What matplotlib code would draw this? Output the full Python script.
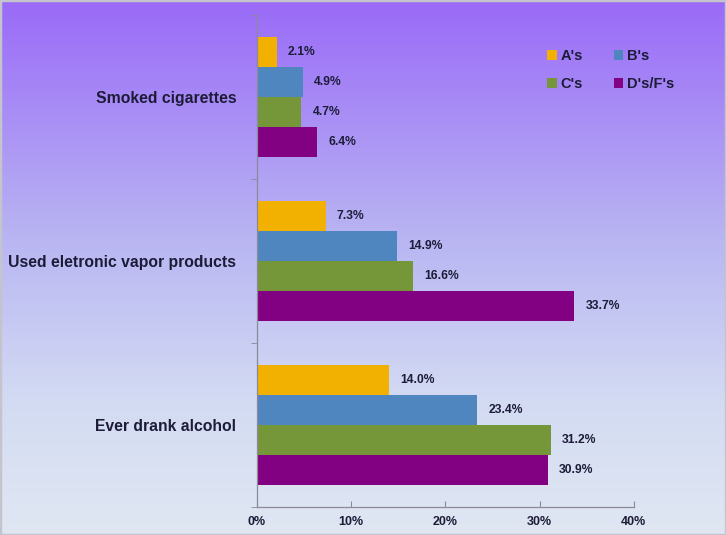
"""Grouped horizontal bars: risk behaviours by grades"""
import numpy as np
import matplotlib
matplotlib.use('Agg')
from matplotlib import pyplot as plt
from matplotlib.colors import LinearSegmentedColormap
from matplotlib.patches import Rectangle

# data
categories = ['Smoked cigarettes', 'Used eletronic vapor products', 'Ever drank alcohol']
grades = ["A's", "B's", "C's", "D's/F's"]
a_vals = [2.1, 7.3, 14.0]
b_vals = [4.9, 14.9, 23.4]
c_vals = [4.7, 16.6, 31.2]
d_vals = [6.4, 33.7, 30.9]
colors = ['#f2b100', '#4f86c0', '#76963a', '#820082']
x_ticks = [0, 10, 20, 30, 40]

text_col = '#1c1c38'
plt.rcParams['font.family'] = ['Liberation Sans', 'DejaVu Sans']
plt.rcParams['font.weight'] = 'bold'

fig = plt.figure(figsize=(7.26, 5.35), dpi=100)

# background gradient (purple top -> pale blue bottom)
bg = fig.add_axes([0, 0, 1, 1], zorder=-10)
cmap = LinearSegmentedColormap.from_list('bg', [(0.0, '#9a6af8'), (0.45, '#b9b6f2'), (0.75, '#d3dbf3'), (1.0, '#e0e7f2')])
grad = np.linspace(0, 1, 256).reshape(-1, 1)
bg.imshow(grad, aspect='auto', cmap=cmap, extent=[0, 1, 0, 1], origin='upper')
bg.add_patch(Rectangle((0, 0), 1, 1, fill=False, edgecolor='#c4c4cc', linewidth=2.5, transform=bg.transAxes))
bg.axis('off')

ax = fig.add_axes([0.354, 0.052, 0.519, 0.92])
ax.patch.set_alpha(0)

h = 0.183
y = np.arange(len(categories))
bars = []
for j, (vals, lab) in enumerate(zip([a_vals, b_vals, c_vals, d_vals], grades)):
    pos = y + (j - 1.5) * h
    bars.append(ax.barh(pos, vals, height=h, color=colors[j], label=lab))
    for p, v in zip(pos, vals):
        ax.annotate(f'{v:.1f}%', (v, p), xytext=(8, 0), textcoords='offset points',
                    va='center', ha='left', fontsize=8.7, fontweight='bold', color=text_col)

ax.set_xlim(0, 40)
ax.set_ylim(2.5, -0.5)
ax.set_xticks(x_ticks)
ax.set_xticklabels([f'{t}%' for t in x_ticks], fontsize=9, fontweight='bold', color=text_col)
ax.set_yticks(y)
ax.set_yticklabels(categories, fontsize=11.3, fontweight='bold', color=text_col)
ax.tick_params(axis='y', length=0, pad=15)
ax.set_yticks([-0.5, 0.5, 1.5, 2.5], minor=True)
ax.tick_params(axis='y', which='minor', length=4, color='#8a8a9a')
ax.tick_params(axis='x', direction='in', length=4, color='#8a8a9a', pad=6)

for s in ['top', 'right']:
    ax.spines[s].set_visible(False)
for s in ['left', 'bottom']:
    ax.spines[s].set_color('#8a8a9a')
    ax.spines[s].set_linewidth(0.9)

# legend filled row by row: A's B's / C's D's/F's
order = [0, 2, 1, 3]
fig.legend([bars[i] for i in order], [grades[i] for i in order],
           loc='upper left', bbox_to_anchor=(0.744, 0.922), ncol=2, frameon=False,
           handlelength=0.65, handleheight=0.65, handletextpad=0.25,
           columnspacing=2.1, labelspacing=0.95, borderpad=0, labelcolor=text_col,
           prop={'weight': 'bold', 'size': 10.5})

plt.savefig('out.png', dpi=100)
